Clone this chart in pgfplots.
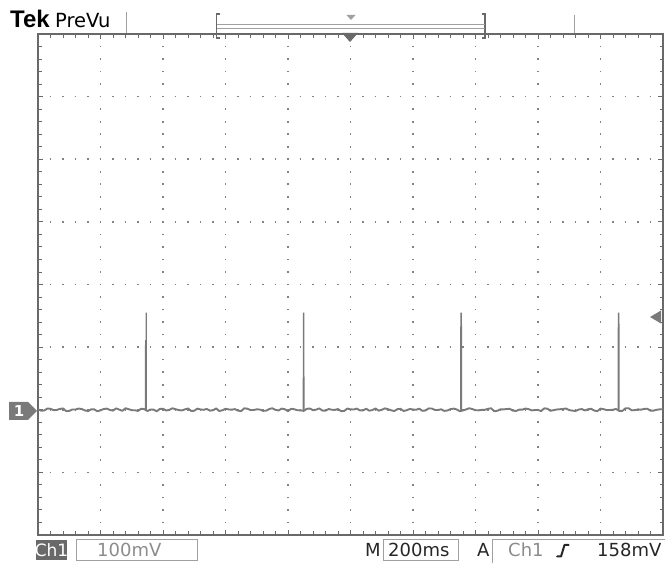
\documentclass[border=0pt]{standalone}
\usepackage{pgfplots}
\pgfplotsset{compat=1.18}
\usepackage{fontspec}
\setmainfont{DejaVu Sans}
\newfontfamily\tekfont{Liberation Sans}
\definecolor{trace}{RGB}{122,122,122}
\definecolor{frame}{RGB}{105,105,105}
\definecolor{griddot}{RGB}{130,130,130}
\definecolor{boxline}{RGB}{160,160,160}
\definecolor{lighttext}{RGB}{140,140,140}
\begin{document}
\begin{tikzpicture}[x=1pt,y=1pt]
\path[use as bounding box] (0,0) rectangle (665,563);
\begin{axis}[
  at={(38pt,28pt)}, anchor=south west,
  scale only axis, width=625pt, height=501pt,
  xmin=0, xmax=2000, ymin=-200, ymax=600,
  xtick={0,200,...,2000}, ytick={-200,-100,...,600},
  xticklabels={}, yticklabels={},
  minor x tick num=4, minor y tick num=4,
  tick align=inside, xtick pos=both, ytick pos=both,
  major tick length=5pt, minor tick length=3.5pt,
  every tick/.style={frame, line width=0.9pt},
  axis line style={frame, line width=1.8pt},
  grid=major,
  x grid style={griddot, line width=1.7pt, dash pattern=on 1.7pt off 10.825pt, dash phase=0.85pt},
  y grid style={griddot, line width=1.7pt, dash pattern=on 1.7pt off 10.8pt, dash phase=0.85pt},
  clip=true,
]
% baseline (ground level, small noise)
\addplot[trace, line width=1.9pt, line join=round] coordinates {
(0,0.8)(10,-1.5)(20,-1.2)(30,2.0)(40,1.5)(50,-0.6)(60,-0.4)(70,1.3)(80,2.1)(90,-2.1)
(100,-1.8)(110,0.4)(120,0.3)(130,1.9)(140,1.1)(150,-1.0)(160,-2.2)(170,0.7)(180,0.6)(190,-2.4)
(200,-0.9)(210,1.1)(220,1.8)(230,-0.3)(240,-1.4)(250,2.2)(260,0.2)(270,-1.7)(280,2.4)(290,0.9)
(300,-0.7)(310,-0.8)(320,-1.9)(330,1.6)(340,1.0)(350,-2.0)(360,0.4)(370,0.2)(380,-2.5)(390,1.4)
(400,1.6)(410,-1.2)(420,-0.3)(430,2.3)(440,0.9)(450,-0.5)(460,-1.1)(470,0.6)(480,2.0)(490,-1.9)
(500,-1.6)(510,1.8)(520,0.5)(530,-0.1)(540,1.3)(550,-1.4)(560,-0.8)(570,2.1)(580,-2.0)(590,-0.9)
(600,1.7)(610,0.5)(620,0.1)(630,1.0)(640,-1.3)(650,-2.2)(660,2.3)(670,1.7)(680,-0.5)(690,-0.4)
(700,0.7)(710,0.3)(720,-1.7)(730,-1.6)(740,1.2)(750,2.4)(760,-0.2)(770,-1.1)(780,1.9)(790,0.8)
(800,-2.3)(810,1.5)(820,0.8)(830,-0.7)(840,-1.0)(850,-1.8)(860,1.4)(870,2.0)(880,-0.6)(890,0.1)
(900,2.2)(910,-1.3)(920,-1.5)(930,1.2)(940,0.0)(950,-0.2)(960,1.1)(970,-2.3)(980,-1.9)(990,1.9)
(1000,0.6)(1010,0.4)(1020,1.8)(1030,-1.0)(1040,-0.9)(1050,1.6)(1060,-1.4)(1070,-0.6)(1080,2.1)(1090,-1.5)
(1100,-0.1)(1110,2.2)(1120,0.9)(1130,-0.8)(1140,-2.1)(1150,0.9)(1160,1.5)(1170,-2.0)(1180,-0.7)(1190,1.3)
(1200,0.3)(1210,0.0)(1220,1.7)(1230,-1.7)(1240,-1.2)(1250,2.1)(1260,2.0)(1270,-0.3)(1280,-0.4)(1290,0.7)
(1300,-1.8)(1310,-1.2)(1320,1.0)(1330,1.8)(1340,0.5)(1350,-2.4)(1360,-1.1)(1370,0.5)(1380,2.4)(1390,1.1)
(1400,-0.8)(1410,-0.9)(1420,-0.2)(1430,-0.1)(1440,1.6)(1450,2.3)(1460,-2.4)(1470,-1.6)(1480,0.7)(1490,0.6)
(1500,1.2)(1510,1.4)(1520,-1.5)(1530,-1.9)(1540,0.2)(1550,0.2)(1560,1.9)(1570,1.0)(1580,-1.0)(1590,-0.5)
(1600,-0.3)(1610,-2.1)(1620,2.2)(1630,1.7)(1640,-1.7)(1650,-0.7)(1660,0.4)(1670,0.8)(1680,1.3)(1690,2.0)
(1700,-0.6)(1710,-1.4)(1720,-2.0)(1730,0.3)(1740,1.1)(1750,-1.1)(1760,0.8)(1770,1.5)(1780,-1.3)(1790,-2.2)
(1800,1.8)(1810,0.9)(1820,-0.5)(1830,-0.4)(1840,0.1)(1850,1.2)(1860,-1.9)(1870,-1.8)(1880,2.3)(1890,2.4)
(1900,-0.9)(1910,-0.6)(1920,0.6)(1930,0.1)(1940,1.4)(1950,1.6)(1960,-1.6)(1970,-1.3)(1980,0.0)(1990,0.7)(2000,0.9)
};
% spikes
\addplot[trace, line width=1.6pt] coordinates {(344.4,0)(345,111)(345.6,0)};
\addplot[trace, line width=1.2pt] coordinates {(345.6,0)(346.2,155)(346.8,0)};
\addplot[trace, line width=1.5pt] coordinates {(849.4,0)(850,155)(850.6,0)};
\addplot[trace, line width=1.7pt] coordinates {(1353.4,0)(1354,155)(1354.6,0)};
\addplot[trace, line width=1.7pt] coordinates {(1857.4,0)(1858,155)(1858.6,0)};
\end{axis}
% ---- header ----
\node[anchor=base west, inner sep=0pt, font=\tekfont\bfseries\fontsize{24}{24}\selectfont] at (10,535) {Tek};
\node[anchor=base west, inner sep=0pt, font=\fontsize{19.5}{19.5}\selectfont] at (55,535) {PreVu};
\draw[boxline, line width=1pt] (126,551) -- (126,530);
\draw[boxline, line width=1pt] (574,548) -- (574,530);
\draw[frame, line width=1.2pt] (220,549) -- (216.5,549) -- (216.5,525) -- (220,525);
\draw[frame, line width=1.2pt] (481.5,549) -- (485,549) -- (485,525) -- (481.5,525);
\draw[boxline, line width=0.8pt] (217,538.5) -- (484.5,538.5);
\draw[boxline, line width=0.8pt] (217,535) -- (484.5,535);
\fill[boxline] (346.5,548) -- (355.5,548) -- (351,543) -- cycle;
% trigger position marker on top of frame
\fill[frame] (342,530) -- (358,530) -- (350,521) -- cycle;
% ---- ground marker ----
\fill[trace] (9,161) -- (28,161) -- (37,152) -- (28,143) -- (9,143) -- cycle;
\node[white, font=\bfseries\fontsize{15}{15}\selectfont, inner sep=0pt] at (19,152) {1};
% ---- trigger level arrow ----
\fill[trace] (650,246) -- (661,252.5) -- (661,239.5) -- cycle;
% ---- bottom status bar ----
\fill[frame] (36,23) rectangle (67,3);
\node[anchor=base, white, inner sep=0pt, font=\fontsize{17}{17}\selectfont] at (51.5,6) {Ch1};
\draw[boxline, line width=1pt] (76,23) rectangle (197,2);
\node[anchor=base west, lighttext, inner sep=0pt, font=\fontsize{18}{18}\selectfont] at (97,6) {100mV};
\node[anchor=base west, black!85, inner sep=0pt, font=\fontsize{18}{18}\selectfont] at (365,6) {M};
\draw[boxline, line width=1pt] (383,23) rectangle (458,2);
\node[anchor=base west, black!85, inner sep=0pt, font=\fontsize{18}{18}\selectfont] at (388,6) {200ms};
\node[anchor=base west, black!85, inner sep=0pt, font=\fontsize{18}{18}\selectfont] at (477,6) {A};
\draw[boxline, line width=1pt] (492,0) -- (492,23) -- (665,23);
\node[anchor=base west, lighttext, inner sep=0pt, font=\fontsize{18}{18}\selectfont] at (508,6) {Ch1};
\draw[black!85, line width=2pt, line cap=round, line join=round] (557,6.5) -- (561,6.5) -- (564.5,18) -- (568.5,18);
\node[anchor=base west, black!85, inner sep=0pt, font=\fontsize{18}{18}\selectfont] at (597,6) {158mV};
\end{tikzpicture}
\end{document}
